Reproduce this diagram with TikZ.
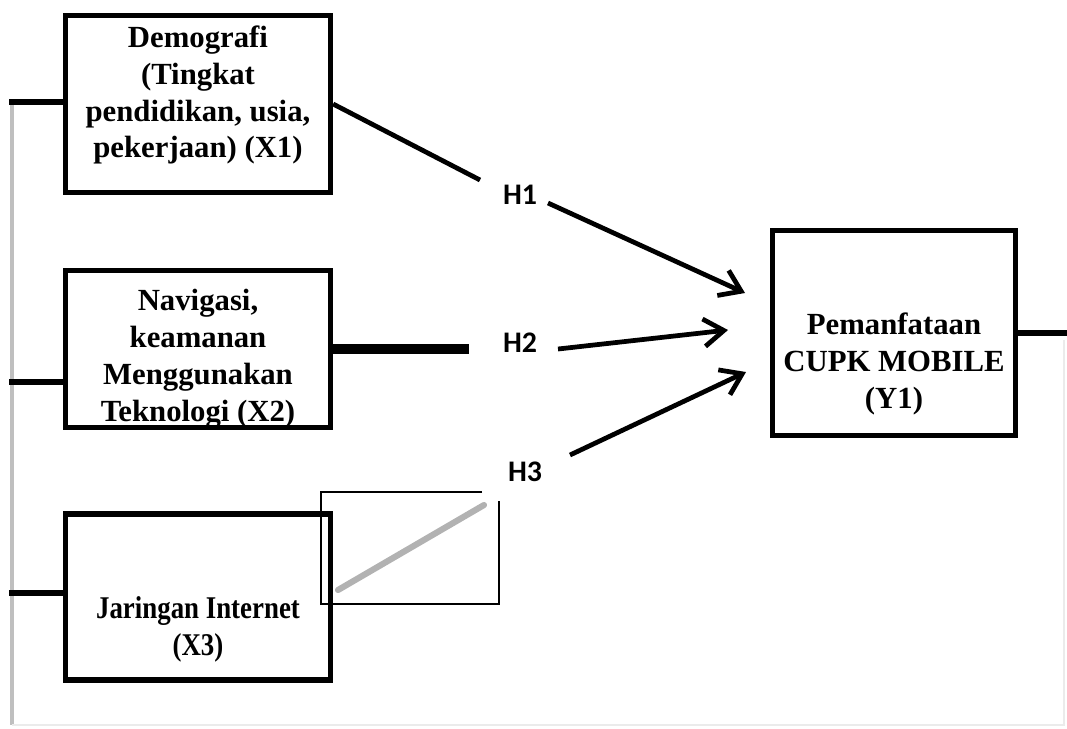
\documentclass[tikz,border=0pt]{standalone}
\usepackage{fontspec}
\setmainfont{Liberation Serif}
\newfontfamily\hfont{Carlito}
\newfontfamily\condfont[FakeStretch=0.85]{Liberation Serif}
\usetikzlibrary{arrows.meta}

\begin{document}
\begin{tikzpicture}[x=0.02cm,y=-0.02cm,
  varbox/.style={draw, line width=3pt, fill=white, inner sep=0pt},
  vartext/.style={align=center, font=\fontsize{17.5}{21}\selectfont\bfseries},
  hyp/.style={font=\hfont\fontsize{17}{19}\selectfont\bfseries},
  link/.style={line width=2.7pt},
  arrow/.style={line width=2.7pt, -{Straight Barb[length=4mm,width=5.5mm]}},
  stub/.style={line width=3pt}]
\useasboundingbox (0,0) rectangle (1067,728);

% Frame
\draw[black!25, line width=2.2pt] (12,103) -- (12,725);
\draw[black!8, line width=1.5pt] (12,725) -- (1064,725) -- (1064,340);

% Variable boxes
\node[varbox, minimum width=5.3cm, minimum height=3.54cm] (x1) at (198,104) {};
\node[vartext] (x1t) at (198,95) {Demografi\\(Tingkat\\pendidikan, usia,\\pekerjaan) (X1)};

\node[varbox, minimum width=5.3cm, minimum height=3.14cm] (x2) at (198,349) {};
\node[vartext] (x2t) at (198,359) {Navigasi,\\keamanan\\Menggunakan\\Teknologi (X2)};

\node[varbox, minimum width=5.3cm, minimum height=3.32cm] (x3) at (198,597) {};
\node[vartext, font=\condfont\fontsize{18}{21}\selectfont\bfseries] (x3t) at (198,629) {Jaringan Internet\\(X3)};

\node[varbox, minimum width=4.86cm, minimum height=4.1cm] (y1) at (894,333) {};
\node[vartext] (y1t) at (894,364) {Pemanfataan\\CUPK MOBILE\\(Y1)};

% Hypotheses
\node[hyp] (h1) at (520,195) {H1};
\node[hyp] (h2) at (520,343) {H2};
\node[hyp] (h3) at (525,472) {H3};

% Stubs on the left and right
\coordinate (s1) at (9,102);
\coordinate (s2) at (9,382);
\coordinate (s3) at (9,593);
\coordinate (s4) at (1067,333);
\draw[stub] (s1) -- (s1 -| x1.west);
\draw[stub] (s2) -- (s2 -| x2.west);
\draw[stub] (s3) -- (s3 -| x3.west);
\draw[stub] (y1.east) -- (s4);

% Connectors
\coordinate (e1) at (480,180);
\coordinate (e2) at (469,349);
\coordinate (t1) at (745,293);
\coordinate (t2) at (728,330);
\coordinate (t3) at (746,372);
\draw[link] (x1.east) -- (e1);
\draw[line width=5.7pt] (x2.east) -- (e2);
\draw[arrow] ([shift={(28,8)}]h1.center) -- (t1);
\draw[arrow] ([shift={(38,6)}]h2.center) -- (t2);
\draw[arrow] ([shift={(45,-17)}]h3.center) -- (t3);

% Loose frame near X3
\draw[black!30, line width=3.5pt, line cap=round] (338,590) -- (484,505);
\draw[line width=0.7pt] (482,492) -- (321,492) -- (321,604) -- (499,604) -- (499,501);
\end{tikzpicture}
\end{document}
